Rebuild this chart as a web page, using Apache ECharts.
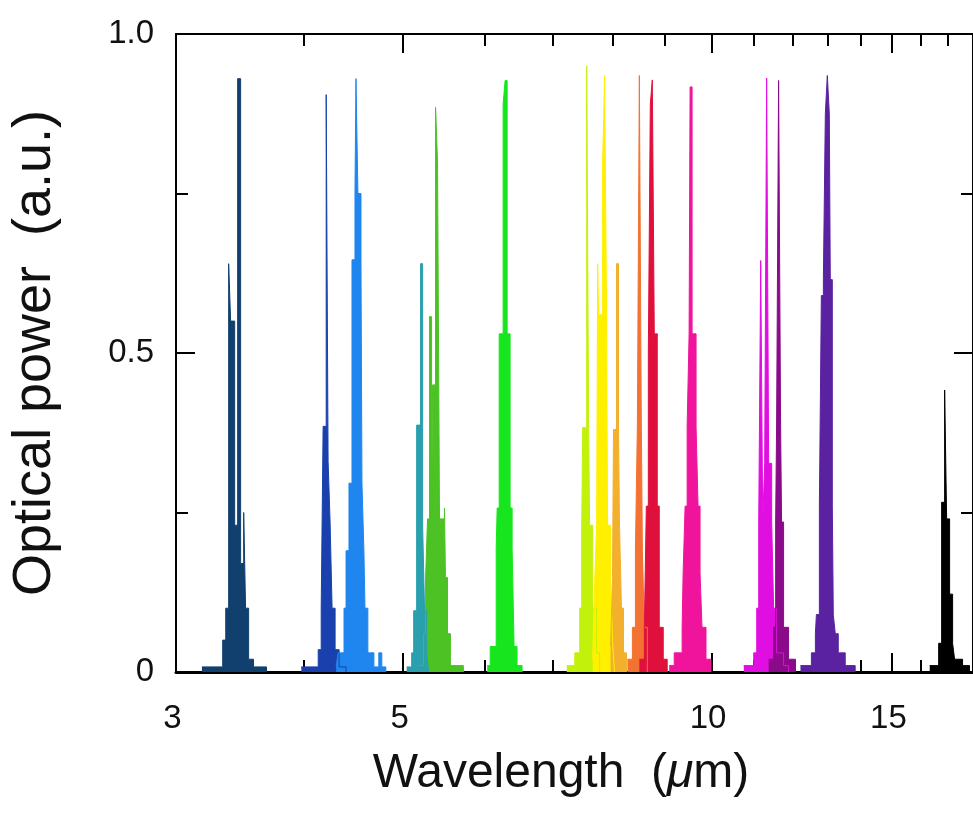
<!DOCTYPE html>
<html><head><meta charset="utf-8">
<script src="https://cdn.jsdelivr.net/npm/echarts@6.0.0/dist/echarts.min.js"></script>
<style>html,body{margin:0;padding:0;background:#fff}#c{width:973px;height:813px}</style>
</head><body><div id="c"></div>
<script>
// Tick values (wavelength in µm, power in a.u.)
const xMajorTicks = [3, 5, 10, 15];
const xMinorTicks = [4, 6, 7, 8, 9, 11, 12, 13, 14, 16, 17];
const xRange = [3, 18];
const yRange = [0, 1];

// Spectra: [wavelength µm, optical power] step edges (value holds until next edge)
const spec01 = [[3.180,0.008],[3.332,0.05],[3.355,0.10],[3.377,0.64],[3.392,0.55],[3.423,0.23],[3.446,0.93],[3.469,0.17],[3.493,0.25],[3.508,0.10],[3.532,0.02],[3.571,0.008],[3.677,0]];
const spec02 = [[3.976,0.008],[4.130,0.035],[4.158,0.10],[4.176,0.385],[4.205,0.905],[4.223,0.33],[4.242,0.235],[4.261,0.10],[4.290,0.035],[4.329,0.008],[4.397,0]];
const spec03 = [[4.300,0.008],[4.319,0.03],[4.377,0.10],[4.397,0.19],[4.426,0.296],[4.456,0.646],[4.486,0.75],[4.496,0.93],[4.516,0.75],[4.547,0.646],[4.557,0.296],[4.577,0.19],[4.588,0.10],[4.618,0.03],[4.681,0.008],[4.733,0.03],[4.765,0.008],[4.808,0]];
const spec04 = [[5.176,0.01],[5.234,0.06],[5.258,0.148],[5.281,0.24],[5.305,0.557],[5.329,0.24],[5.341,0.45],[5.377,0.885],[5.401,0.80],[5.425,0.24],[5.486,0.257],[5.498,0.148],[5.523,0.06],[5.560,0.01],[5.724,0]];
const spec05 = [[5.039,0.008],[5.096,0.03],[5.119,0.096],[5.153,0.387],[5.199,0.64],[5.223,0.23],[5.246,0.096],[5.270,0.03],[5.293,0]];
const spec06 = [[6.039,0.01],[6.080,0.04],[6.162,0.194],[6.176,0.257],[6.204,0.53],[6.259,0.89],[6.287,0.927],[6.316,0.53],[6.358,0.257],[6.387,0.194],[6.415,0.04],[6.458,0.01],[6.531,0]];
const spec07 = [[7.222,0.01],[7.353,0.03],[7.435,0.10],[7.469,0.23],[7.485,0.383],[7.553,0.95],[7.586,0.383],[7.603,0.23],[7.655,0.10],[7.723,0.03],[7.775,0]];
const spec08 = [[7.655,0.02],[7.689,0.14],[7.723,0.23],[7.741,0.64],[7.758,0.56],[7.828,0.796],[7.863,0.935],[7.898,0.56],[7.916,0.23],[7.969,0.14],[8.004,0.05],[8.040,0]];
const spec09 = [[7.969,0.04],[8.004,0.15],[8.022,0.38],[8.076,0.64],[8.113,0.38],[8.131,0.23],[8.167,0.10],[8.204,0.03],[8.259,0]];
const spec10 = [[8.277,0.02],[8.370,0.07],[8.427,0.19],[8.464,0.387],[8.502,0.935],[8.540,0.387],[8.560,0.19],[8.598,0.07],[8.656,0]];
const spec11 = [[8.502,0.02],[8.598,0.07],[8.636,0.26],[8.675,0.5],[8.714,0.89],[8.753,0.928],[8.792,0.53],[8.851,0.26],[8.891,0.07],[8.971,0.02],[9.051,0]];
const spec12 = [[9.092,0.01],[9.195,0.03],[9.360,0.07],[9.381,0.155],[9.423,0.26],[9.466,0.385],[9.508,0.53],[9.529,0.917],[9.572,0.53],[9.658,0.385],[9.701,0.26],[9.745,0.155],[9.788,0.07],[9.876,0.02],[9.987,0]];
const spec13 = [[10.752,0.01],[10.995,0.03],[11.069,0.10],[11.119,0.235],[11.169,0.645],[11.219,0.235],[11.269,0.327],[11.319,0.931],[11.370,0.327],[11.447,0.235],[11.498,0.10],[11.575,0.03],[11.758,0.01],[11.890,0]];
const spec14 = [[11.370,0.02],[11.498,0.07],[11.550,0.235],[11.575,0.387],[11.627,0.927],[11.679,0.387],[11.705,0.235],[11.758,0.07],[11.890,0.02],[12.078,0]];
const spec15 = [[12.213,0.01],[12.517,0.03],[12.630,0.06],[12.658,0.09],[12.743,0.26],[12.800,0.59],[12.858,0.615],[12.915,0.875],[12.973,0.935],[13.031,0.875],[13.060,0.615],[13.119,0.26],[13.148,0.09],[13.207,0.06],[13.296,0.03],[13.506,0.01],[13.811,0]];
const spec16 = [[16.331,0.01],[16.663,0.045],[16.775,0.266],[16.888,0.442],[16.964,0.24],[17.078,0.122],[17.193,0.045],[17.270,0.02],[17.582,0.01],[17.859,0]];

const spectra = [spec01, spec02, spec03, spec04, spec05, spec06, spec07, spec08, spec09, spec10, spec11, spec12, spec13, spec14, spec15, spec16];
const colors = ['#11406f','#1a40ad','#1e86ee','#4cc224','#2a9fad','#17e61e','#c2f20c','#fff000','#f2b02c','#f37232','#e0103c','#f0149c','#e00ee0','#8a0a8a','#5a22a0','#000000'];

const FONT = 'Liberation Sans';
const blackLine = {color:'#000', width:2};

function xAxisCfg(pos, ticks, len, withLabel, lineW) {
  return {
    type:'log', logBase:10, min:xRange[0], max:xRange[1], position:pos,
    axisLine:{show:lineW>0, onZero:false, lineStyle:{color:'#000', width:lineW||1}},
    axisTick:{show:true, inside:true, length:len, customValues:ticks, lineStyle:blackLine},
    axisLabel: withLabel ? {show:true, customValues:ticks, margin:30, fontSize:33, color:'#111', fontFamily:FONT, padding:[0,7,0,0], formatter:v=>String(Math.round(v))} : {show:false},
    splitLine:{show:false}, minorTick:{show:false}, minorSplitLine:{show:false}
  };
}

const xAxes = [
  Object.assign(xAxisCfg('bottom', xMajorTicks, 19, true, 3), {
    name:'Wavelength  ({i|\u03bc}m)', nameLocation:'middle', nameGap:78,
    nameTextStyle:{fontSize:48, color:'#111', fontFamily:FONT, padding:[0,27,0,0],
      rich:{i:{fontSize:48, fontStyle:'italic', color:'#111', fontFamily:FONT}}}
  }),
  xAxisCfg('bottom', xMinorTicks, 12, false, 0),
  xAxisCfg('top', xMajorTicks, 19, false, 2),
  xAxisCfg('top', xMinorTicks, 12, false, 0)
];

function yAxisCfg(pos, withLabel) {
  return {
    type:'value', min:yRange[0], max:yRange[1], interval:0.5, position:pos,
    axisLine:{show:true, lineStyle:{color:'#000', width:2}},
    axisTick:{show:true, inside:true, length:19, lineStyle:blackLine},
    minorTick:{show:true, splitNumber:2, length:12, lineStyle:blackLine},
    axisLabel: withLabel ? {show:true, margin:22, fontSize:33, color:'#111', fontFamily:FONT,
      formatter:v=> v===0 ? '0' : v.toFixed(1)} : {show:false},
    splitLine:{show:false}, minorSplitLine:{show:false}
  };
}

const yAxes = [
  Object.assign(yAxisCfg('left', true), {
    name:'Optical power  (a.u.)', nameLocation:'middle', nameGap:114,
    nameTextStyle:{fontSize:54, color:'#111', fontFamily:FONT}
  }),
  yAxisCfg('right', false)
];

const series = spectra.map((d, i) => ({
  type:'line', data:d, xAxisIndex:0, yAxisIndex:0, step:'end',
  symbol:'none', showSymbol:false, silent:true,
  lineStyle:{color:colors[i], width:1}, itemStyle:{color:colors[i]},
  areaStyle:{color:colors[i], opacity:1}
}));

const chart = echarts.init(document.getElementById('c'), null, {renderer:'canvas'});
chart.setOption({
  animation:false,
  backgroundColor:'#fff',
  grid:{left:174, right:-2, top:34, bottom:141, containLabel:false},
  xAxis:xAxes,
  yAxis:yAxes,
  series:series
});
</script></body></html>
